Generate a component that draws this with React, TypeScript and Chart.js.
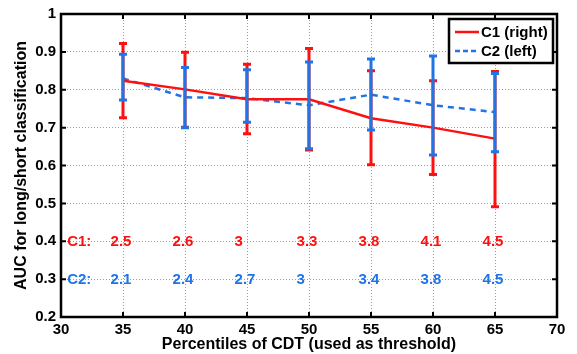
import React, { useEffect, useRef } from "react";
import Chart from "chart.js/auto";

const percentiles = [35, 40, 45, 50, 55, 60, 65];
const c1Mean = [0.824, 0.801, 0.775, 0.775, 0.725, 0.700, 0.671];
const c1Upper = [0.922, 0.899, 0.867, 0.909, 0.850, 0.824, 0.848];
const c1Lower = [0.726, 0.701, 0.684, 0.641, 0.602, 0.576, 0.491];
const c2Mean = [0.830, 0.780, 0.778, 0.759, 0.787, 0.759, 0.741];
const c2Upper = [0.894, 0.859, 0.853, 0.873, 0.881, 0.889, 0.843];
const c2Lower = [0.773, 0.700, 0.714, 0.644, 0.694, 0.628, 0.636];
const c1Labels = ["2.5", "2.6", "3", "3.3", "3.8", "4.1", "4.5"];
const c2Labels = ["2.1", "2.4", "2.7", "3", "3.4", "3.8", "4.5"];
const seriesNames = ["C1 (right)", "C2 (left)"];
const annotationRowY = [0.4, 0.3];
const annotationPrefix = ["C1:", "C2:"];
const xTitle = "Percentiles of CDT (used as threshold)";
const yTitle = "AUC for long/short classification";

const RED = "#ff1010";
const BLUE = "#1f74e6";
const FONT = "'Liberation Sans', Arial, sans-serif";

export default function App() {
  const ref = useRef<HTMLCanvasElement | null>(null);
  useEffect(() => {
    const canvas = ref.current;
    if (!canvas) return;
    const overlay = {
      id: "overlay",
      afterDatasetsDraw(chart: any) {
        const ctx = chart.ctx;
        const xs = chart.scales.x;
        const ys = chart.scales.y;
        const drawBars = (upper: number[], lower: number[], color: string) => {
          ctx.save();
          ctx.strokeStyle = color;
          ctx.lineWidth = 3;
          ctx.lineCap = "butt";
          percentiles.forEach((p, i) => {
            const x = xs.getPixelForValue(p);
            const yt = ys.getPixelForValue(upper[i]);
            const yb = ys.getPixelForValue(lower[i]);
            ctx.beginPath();
            ctx.moveTo(x, yt);
            ctx.lineTo(x, yb);
            ctx.moveTo(x - 4, yt);
            ctx.lineTo(x + 4, yt);
            ctx.moveTo(x - 4, yb);
            ctx.lineTo(x + 4, yb);
            ctx.stroke();
          });
          ctx.restore();
        };
        drawBars(c1Upper, c1Lower, RED);
        drawBars(c2Upper, c2Lower, BLUE);
      },
      afterDraw(chart: any) {
        const ctx = chart.ctx;
        const xs = chart.scales.x;
        const ys = chart.scales.y;
        const a = chart.chartArea;
        ctx.save();
        // annotations
        ctx.font = `bold 15px ${FONT}`;
        ctx.textAlign = "left";
        ctx.textBaseline = "middle";
        [c1Labels, c2Labels].forEach((labels, r) => {
          ctx.fillStyle = r === 0 ? RED : BLUE;
          const y = ys.getPixelForValue(annotationRowY[r]) + 1;
          ctx.fillText(annotationPrefix[r], xs.getPixelForValue(30.5), y);
          labels.forEach((t, i) => {
            ctx.fillText(t, xs.getPixelForValue(percentiles[i] - 1), y);
          });
        });
        // inner ticks
        ctx.strokeStyle = "#000";
        ctx.lineWidth = 2;
        ctx.beginPath();
        xs.ticks.forEach((t: any) => {
          const x = xs.getPixelForValue(t.value);
          ctx.moveTo(x, a.bottom);
          ctx.lineTo(x, a.bottom - 5);
          ctx.moveTo(x, a.top);
          ctx.lineTo(x, a.top + 5);
        });
        ys.ticks.forEach((t: any) => {
          const y = ys.getPixelForValue(t.value);
          ctx.moveTo(a.left, y);
          ctx.lineTo(a.left + 5, y);
          ctx.moveTo(a.right, y);
          ctx.lineTo(a.right - 5, y);
        });
        ctx.stroke();
        // box
        ctx.lineWidth = 2.5;
        ctx.strokeRect(a.left, a.top, a.right - a.left, a.bottom - a.top);
        // legend
        const lx = a.right - 108;
        const ly = a.top + 5;
        const lw = 104;
        const lh = 44;
        ctx.fillStyle = "#fff";
        ctx.fillRect(lx, ly, lw, lh);
        ctx.lineWidth = 2.5;
        ctx.strokeStyle = "#000";
        ctx.strokeRect(lx, ly, lw, lh);
        ctx.font = `bold 15px ${FONT}`;
        ctx.fillStyle = "#000";
        const rows = [ly + 13, ly + 32];
        ctx.lineWidth = 2.5;
        ctx.strokeStyle = RED;
        ctx.beginPath();
        ctx.moveTo(lx + 6, rows[0]);
        ctx.lineTo(lx + 30, rows[0]);
        ctx.stroke();
        ctx.strokeStyle = BLUE;
        ctx.setLineDash([5, 3]);
        ctx.beginPath();
        ctx.moveTo(lx + 6, rows[1]);
        ctx.lineTo(lx + 30, rows[1]);
        ctx.stroke();
        ctx.setLineDash([]);
        ctx.fillText(seriesNames[0], lx + 32, rows[0] + 1);
        ctx.fillText(seriesNames[1], lx + 32, rows[1] + 1);
        ctx.restore();
      },
    };
    const gridColor = (edge: number[]) => (c: any) =>
      c.tick && edge.some((e) => Math.abs(c.tick.value - e) < 1e-6) ? "rgba(0,0,0,0)" : "#9a9a9a";
    const chart = new Chart(canvas, {
      type: "line",
      data: {
        datasets: [
          {
            label: seriesNames[0],
            data: percentiles.map((p, i) => ({ x: p, y: c1Mean[i] })),
            borderColor: RED,
            borderWidth: 2.5,
            pointRadius: 0,
            fill: false,
          },
          {
            label: seriesNames[1],
            data: percentiles.map((p, i) => ({ x: p, y: c2Mean[i] })),
            borderColor: BLUE,
            borderWidth: 2.5,
            borderDash: [6, 5],
            pointRadius: 0,
            fill: false,
          },
        ],
      },
      options: {
        animation: false,
        responsive: false,
        devicePixelRatio: 1,
        layout: { padding: { top: 12, right: 20, left: 0, bottom: 0 } },
        plugins: { legend: { display: false }, tooltip: { enabled: false } },
        scales: {
          x: {
            type: "linear",
            min: 30,
            max: 70,
            afterFit: (s: any) => {
              s.height = 37;
            },
            ticks: {
              stepSize: 5,
              padding: 4,
              color: "#000",
              font: { family: FONT, size: 15, weight: "bold" },
              maxRotation: 0,
            },
            grid: { color: gridColor([30, 70]), lineWidth: 1, drawTicks: false },
            border: { display: false, dash: [1, 2] },
            title: {
              display: true,
              text: xTitle,
              color: "#000",
              font: { family: FONT, size: 16, weight: "bold" },
              padding: { top: 0, bottom: 0 },
            },
          },
          y: {
            type: "linear",
            min: 0.2,
            max: 1,
            afterFit: (s: any) => {
              s.width = 61;
            },
            ticks: {
              stepSize: 0.1,
              padding: 5,
              color: "#000",
              font: { family: FONT, size: 15, weight: "bold" },
              callback: (v: any) => String(Number(Number(v).toFixed(1))),
            },
            grid: { color: gridColor([0.2, 1]), lineWidth: 1, drawTicks: false },
            border: { display: false, dash: [1, 2] },
            title: {
              display: true,
              text: yTitle,
              color: "#000",
              font: { family: FONT, size: 16, weight: "bold" },
              padding: { top: 12, bottom: 0 },
            },
          },
        },
      },
      plugins: [overlay],
    });
    return () => chart.destroy();
  }, []);
  return (
    <div style={{ position: "fixed", left: 0, top: 0, width: 577, height: 354, background: "#fff" }}>
      <canvas ref={ref} width={577} height={354} style={{ width: 577, height: 354, display: "block" }} />
    </div>
  );
}
